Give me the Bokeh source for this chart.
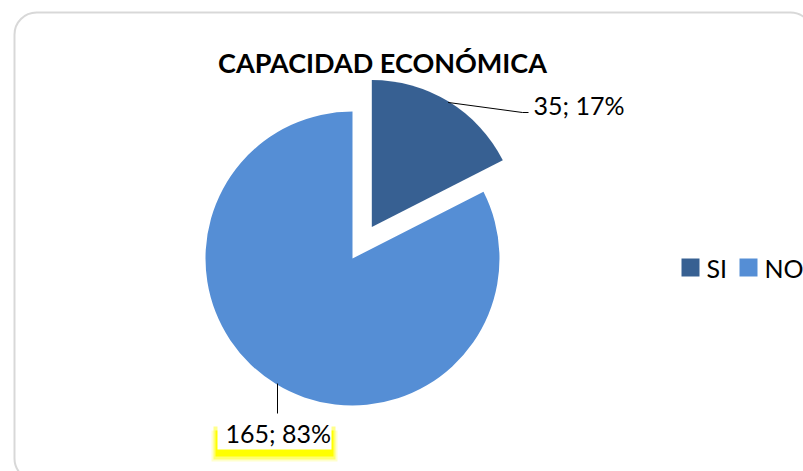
import math
from bokeh.plotting import figure
from bokeh.models import Range1d, BoxAnnotation
from bokeh.core.properties import value
from bokeh.embed import file_html
from bokeh.resources import INLINE

# ---- data ----
title = "CAPACIDAD ECONÓMICA"
categories = ["SI", "NO"]
counts = [35, 165]
percents = ["17%", "83%"]
colors = ["#376092", "#558ED5"]

W, H = 803, 471
FONT = "Lato"

def Y(sy):
    # convert screen y (page pixel) to data y
    return H - sy

p = figure(width=W, height=H, output_backend="svg", toolbar_location=None,
           x_range=Range1d(0, W), y_range=Range1d(0, H),
           min_border=0, outline_line_color=None)
p.axis.visible = False
p.grid.visible = False
p.background_fill_color = "white"
p.border_fill_color = "white"

# chart-area rounded border
p.add_layout(BoxAnnotation(left=14, right=812, top=Y(12), bottom=Y(480),
                           fill_color=None, fill_alpha=0, line_color="#7f7f7f",
                           line_width=2, border_radius=22, level="underlay"))

# ---- pie ----
total = sum(counts)
fracs = [c / total for c in counts]
angles = [f * 2 * math.pi for f in fracs]
cx, cy, r = 352, Y(258), 147
explode = 37
start = math.pi / 2
wedges = []
for i, a in enumerate(angles):
    end = start
    st = start - a  # clockwise from top
    mid = (st + end) / 2
    if i == 0:
        x0 = cx + explode * math.cos(mid)
        y0 = cy + explode * math.sin(mid)
    else:
        x0, y0 = cx, cy
    wedges.append((x0, y0, st, end, mid))
    start = st

for (x0, y0, st, end, mid), col in zip(wedges, colors):
    p.wedge(x=x0, y=y0, radius=r, start_angle=st, end_angle=end,
            fill_color=col, line_color=None)

# ---- data labels ----
labels = [f"{c}; {pc}" for c, pc in zip(counts, percents)]

# SI label + leader
x0, y0, st, end, mid = wedges[0]
ex, ey = x0 + (r - 1) * math.cos(mid), y0 + (r - 1) * math.sin(mid)
p.line([ex, 522, 528], [ey, Y(112), Y(112)], line_color="black", line_width=1)
p.text(x=[533], y=[Y(104)], text=[labels[0]], text_font=value(FONT),
       text_font_size="25px", text_baseline="middle", text_align="left",
       text_color="black")

# NO label: yellow glow box
for (l, rr, t, b, a) in [(211, 337, 430, 461, 0.2), (213, 335, 426, 459, 0.45),
                          (215, 333, 430, 456, 1.0)]:
    p.quad(left=l, right=rr, top=Y(t), bottom=Y(b), fill_color="#FFFF00",
           fill_alpha=a, line_color=None)
p.quad(left=217, right=331, top=Y(413), bottom=Y(449), fill_color="white",
       line_color=None)
p.line([277, 277], [Y(383), Y(413)], line_color="black", line_width=1)
p.text(x=[225], y=[Y(432)], text=[labels[1]], text_font=value(FONT),
       text_font_size="25px", text_baseline="middle", text_align="left",
       text_color="black")

# ---- title ----
p.text(x=[382], y=[Y(62)], text=[title], text_font=value(FONT),
       text_font_size="27px", text_font_style="bold", text_align="center",
       text_baseline="alphabetic", text_color="black")

# ---- legend ----
leg_x = [690, 748]
leg_y = Y(267)
for lx, cat, col in zip(leg_x, categories, colors):
    p.scatter(x=[lx], y=[leg_y], marker="square", size=18, fill_color=col,
              line_color=None)
    p.text(x=[lx + 16], y=[leg_y], text=[cat], text_font=value(FONT),
           text_font_size="25px", text_baseline="middle", text_align="left",
           text_color="black")

open("out.html", "w").write(file_html(p, INLINE))
